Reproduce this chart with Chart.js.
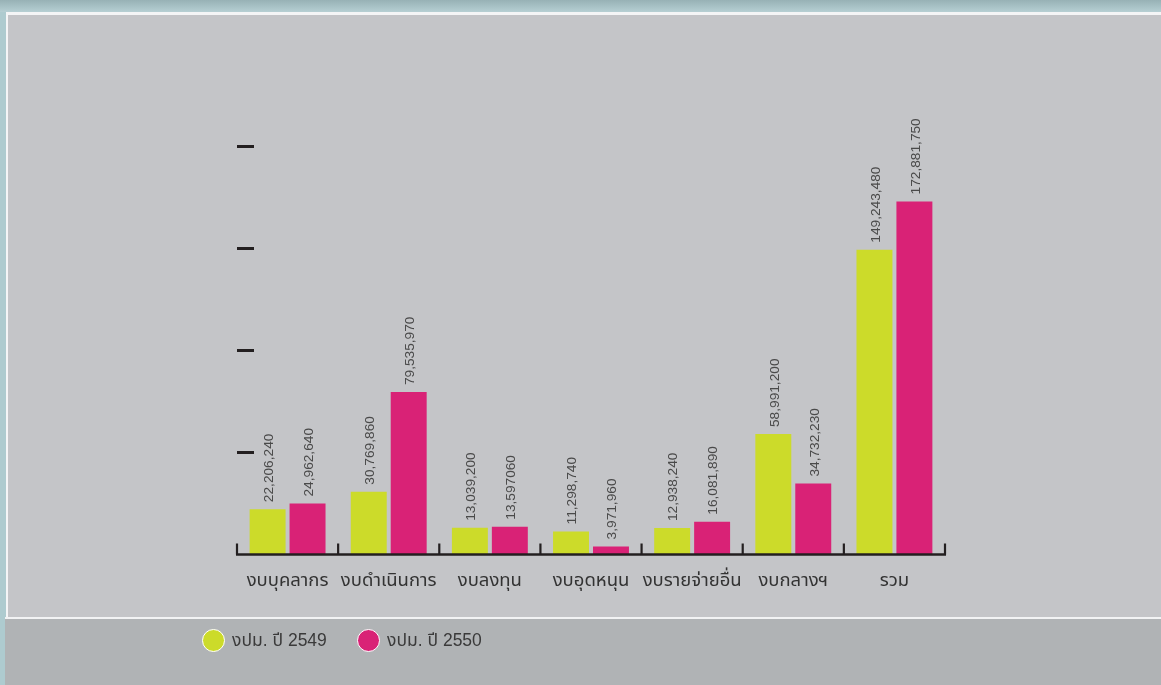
<!DOCTYPE html>
<html>
<head>
<meta charset="utf-8">
<script src="https://cdn.jsdelivr.net/npm/chart.js@4.4.1/dist/chart.umd.min.js"></script>
<style>
  html, body { margin: 0; padding: 0; width: 1161px; height: 685px; overflow: hidden; background: #aecbcf; }
  #topband { position: absolute; left: 0; top: 0; width: 1161px; height: 12px; background: linear-gradient(#97b1b5, #b6cfd3); }
  #frame { position: absolute; left: 6px; top: 12px; width: 1155px; height: 606px; background: #f4f5f6; }
  #panel { position: absolute; left: 8px; top: 15px; width: 1153px; height: 602px; background: #c4c5c8; }
  #lowerline { position: absolute; left: 5px; top: 617px; width: 1156px; height: 2px; background: #f2f3f4; }
  #lower { position: absolute; left: 5px; top: 619px; width: 1156px; height: 66px; background: #b0b3b5; }
  #wrap { position: absolute; left: 0; top: 0; width: 1161px; height: 685px; }
  #legend { position: absolute; left: 202px; top: 627px; display: flex; align-items: center; font-family: "Liberation Sans", "Noto Sans Thai", "Noto Sans", sans-serif; font-size: 17.5px; color: #3a3a3a; }
  .item { display: flex; align-items: center; width: 155px; }
  .dot { width: 21px; height: 21px; border-radius: 50%; border: 1.5px solid #ffffff; margin-right: 7px; flex: none; }
</style>
</head>
<body>
<div id="topband"></div>
<div id="frame"></div>
<div id="panel"></div>
<div id="lowerline"></div>
<div id="lower"></div>
<div id="wrap"><canvas id="c" width="1161" height="685"></canvas></div>
<div id="legend"></div>
<script>
const categories = ['งบบุคลากร', 'งบดำเนินการ', 'งบลงทุน', 'งบอุดหนุน', 'งบรายจ่ายอื่น', 'งบกลางฯ', 'รวม'];
const seriesNames = ['งปม. ปี 2549', 'งปม. ปี 2550'];
const values2549 = [22206240, 30769860, 13039200, 11298740, 12938240, 58991200, 149243480];
const values2550 = [24962640, 79535970, 13597060, 3971960, 16081890, 34732230, 172881750];
const labels2549 = ['22,206,240', '30,769,860', '13,039,200', '11,298,740', '12,938,240', '58,991,200', '149,243,480'];
const labels2550 = ['24,962,640', '79,535,970', '13,597060', '3,971,960', '16,081,890', '34,732,230', '172,881,750'];
const yTicks = [0, 50000000, 100000000, 150000000, 200000000];

const colors = ['#ccdb2a', '#d92276'];
const valueLabels = [labels2549, labels2550];

const decor = {
  id: 'decor',
  afterDatasetsDraw(chart) {
    const ctx = chart.ctx;
    const xs = chart.scales.x, ys = chart.scales.y;
    const area = chart.chartArea;
    ctx.save();
    // value labels
    ctx.font = '13.7px "Liberation Sans", Arial, sans-serif';
    ctx.fillStyle = '#4a4a4a';
    ctx.textAlign = 'left';
    ctx.textBaseline = 'middle';
    chart.data.datasets.forEach((ds, di) => {
      const meta = chart.getDatasetMeta(di);
      meta.data.forEach((bar, i) => {
        ctx.save();
        ctx.translate(bar.x + 1.5, bar.y - 7);
        ctx.rotate(-Math.PI / 2);
        ctx.fillText(valueLabels[di][i], 0, 0);
        ctx.restore();
      });
    });
    // y tick dashes
    ctx.strokeStyle = '#231f20';
    ctx.lineWidth = 3;
    yTicks.forEach(v => {
      if (v === 0) return;
      const y = Math.round(ys.getPixelForValue(v)) + 0.5;
      ctx.beginPath();
      ctx.moveTo(area.left, y);
      ctx.lineTo(area.left + 17, y);
      ctx.stroke();
    });
    // baseline
    const y0 = ys.getPixelForValue(0);
    ctx.lineWidth = 2.6;
    ctx.beginPath();
    ctx.moveTo(area.left - 1, y0);
    ctx.lineTo(area.right + 1, y0);
    ctx.stroke();
    // category boundary ticks
    ctx.lineWidth = 2.2;
    const step = (xs.getPixelForValue(1) - xs.getPixelForValue(0));
    for (let i = 0; i <= categories.length; i++) {
      const x = xs.getPixelForValue(0) - step / 2 + i * step;
      ctx.beginPath();
      ctx.moveTo(x, y0);
      ctx.lineTo(x, y0 - 11);
      ctx.stroke();
    }
    // category labels
    ctx.font = '18.5px "Liberation Sans", "Noto Sans Thai", "Noto Sans", sans-serif';
    ctx.fillStyle = '#333333';
    ctx.textAlign = 'center';
    ctx.textBaseline = 'middle';
    categories.forEach((c, i) => {
      ctx.fillText(c, xs.getPixelForValue(i), 581);
    });
    ctx.restore();
  }
};

const chart = new Chart(document.getElementById('c'), {
  type: 'bar',
  data: {
    labels: categories,
    datasets: [
      { label: seriesNames[0], data: values2549, backgroundColor: colors[0], borderWidth: 0 },
      { label: seriesNames[1], data: values2550, backgroundColor: colors[1], borderWidth: 0 }
    ]
  },
  options: {
    responsive: false,
    animation: false,
    maintainAspectRatio: false,
    datasets: { bar: { categoryPercentage: 0.79, barPercentage: 0.9 } },
    layout: { padding: { left: 237, right: 216, top: 146, bottom: 130.5 } },
    plugins: { legend: { display: false }, tooltip: { enabled: false } },
    scales: {
      x: { display: false },
      y: { display: false, min: 0, max: 200000000 }
    }
  },
  plugins: [decor]
});

const legend = document.getElementById('legend');
chart.data.datasets.forEach((ds, i) => {
  const item = document.createElement('div');
  item.className = 'item';
  const dot = document.createElement('div');
  dot.className = 'dot';
  dot.style.background = ds.backgroundColor;
  const t = document.createElement('span');
  t.textContent = ds.label;
  item.appendChild(dot);
  item.appendChild(t);
  legend.appendChild(item);
});
</script>
</body>
</html>
